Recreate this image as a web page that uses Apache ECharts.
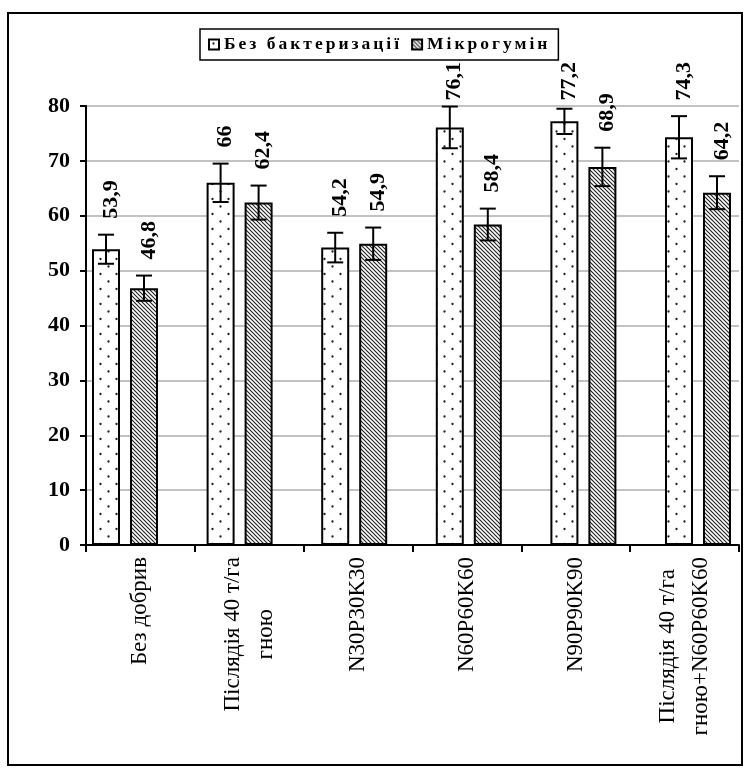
<!DOCTYPE html>
<html>
<head>
<meta charset="utf-8">
<script src="https://cdn.jsdelivr.net/npm/echarts@6/dist/echarts.min.js"></script>
<style>
  html, body { margin: 0; padding: 0; background: #fff; }
  #chart { width: 752px; height: 774px; }
</style>
</head>
<body>
<div id="chart"></div>
<script>
// ---- data ----
const categories = [
  'Без добрив',
  'Післядія 40 т/га\nгною',
  'N30P30K30',
  'N60P60K60',
  'N90P90K90',
  'Післядія 40 т/га\nгною+N60P60K60'
];
const seriesNames = ['Без бактеризації', 'Мікрогумін'];
const controlValues = [53.9, 66, 54.2, 76.1, 77.2, 74.3];
const microhuminValues = [46.8, 62.4, 54.9, 58.4, 68.9, 64.2];
const controlErrors = [2.65, 3.5, 2.7, 3.8, 2.3, 3.85];
const microhuminErrors = [2.3, 3.1, 2.95, 2.9, 3.5, 3.0];
const yMin = 0, yMax = 80, yStep = 10;

// ---- styling ----
const SERIF = 'Liberation Serif';
const LEGEND_SIZE = 17.5;       // legend captions are drawn with extra tracking
const LEGEND_TRACK = 3;
const BAR_WIDTH = 28;
const BAR_GAP = '35.7%';
const LABEL_SIZE = 22;
const LABEL_GAP = 16;           // space between error cap and value label
const LABEL_DX = 5;
const LABEL_TOP = 62;           // labels never rise above this line

// Letter tracking for the legend captions (font size 17.5px only);
// every other text is drawn with zero tracking.
(function () {
  const proto = CanvasRenderingContext2D.prototype;
  const origFill = proto.fillText;
  const origMeasure = proto.measureText;
  const tracked = (ctx) => /17\.5px/.test(ctx.font);
  const hasSpacing = 'letterSpacing' in proto;
  proto.fillText = function () {
    if (hasSpacing) this.letterSpacing = tracked(this) ? LEGEND_TRACK + 'px' : '0px';
    const r = origFill.apply(this, arguments);
    if (hasSpacing) this.letterSpacing = '0px';
    return r;
  };
  proto.measureText = function (text) {
    if (hasSpacing) this.letterSpacing = '0px';
    const m = origMeasure.call(this, text);
    if (!tracked(this)) return m;
    const extra = LEGEND_TRACK * String(text).length;
    return {
      width: m.width + extra,
      actualBoundingBoxAscent: m.actualBoundingBoxAscent,
      actualBoundingBoxDescent: m.actualBoundingBoxDescent,
      actualBoundingBoxLeft: m.actualBoundingBoxLeft,
      actualBoundingBoxRight: m.actualBoundingBoxRight + extra,
      fontBoundingBoxAscent: m.fontBoundingBoxAscent,
      fontBoundingBoxDescent: m.fontBoundingBoxDescent
    };
  };
})();

// Fill patterns: dotted (control) and back-diagonal hatch (Мікрогумін)
function dotPattern() {
  const c = document.createElement('canvas');
  c.width = 16; c.height = 15;
  const g = c.getContext('2d');
  g.fillStyle = '#fff';
  g.fillRect(0, 0, 16, 15);
  g.fillStyle = '#1e1e1e';
  [[4.5, 4], [12.5, 11.5]].forEach(([x, y]) => {
    g.beginPath();
    g.arc(x, y, 1.15, 0, Math.PI * 2);
    g.fill();
  });
  return c;
}
function hatchPattern() {
  const s = 4;
  const c = document.createElement('canvas');
  c.width = s; c.height = s;
  const g = c.getContext('2d');
  g.fillStyle = '#fff';
  g.fillRect(0, 0, s, s);
  g.strokeStyle = '#222';
  g.lineWidth = 1.15;
  g.beginPath();
  [-s, 0, s].forEach((k) => { g.moveTo(k - 1, -1); g.lineTo(k + s + 1, s + 1); });
  g.stroke();
  return c;
}
const dotFill = { image: dotPattern(), repeat: 'repeat' };
const hatchFill = { image: hatchPattern(), repeat: 'repeat' };

const measureCtx = document.createElement('canvas').getContext('2d');
function labelWidth(text) {
  measureCtx.font = 'bold ' + LABEL_SIZE + 'px "' + SERIF + '"';
  return measureCtx.measureText(text).width;
}

// Error bars with caps, plus the rotated value label above each bar
function errorSeries(values, errors, slot) {
  return {
    type: 'custom',
    xAxisIndex: 1,
    yAxisIndex: 1,
    z: 5,
    silent: true,
    clip: false,
    data: values.map((v, i) => [i, v, errors[i]]),
    encode: { x: 0, y: 1 },
    renderItem(params, api) {
      const i = api.value(0);
      const v = api.value(1);
      const e = api.value(2);
      let offset;
      if (api.barLayout) {
        const lay = api.barLayout({ count: 2, barWidth: BAR_WIDTH, barGap: BAR_GAP });
        offset = lay[slot].offsetCenter;
      } else {
        offset = (slot === 0 ? -1 : 1) * BAR_WIDTH * 1.357 / 2;
      }
      const cx = api.coord([i, v])[0] + offset;
      const yHi = api.coord([i, v + e])[1];
      const yLo = api.coord([i, v - e])[1];
      const line = { stroke: '#000', lineWidth: 2 };
      const cap = 8;
      const text = String(v).replace('.', ',');
      const w = labelWidth(text);
      let ty = yHi - LABEL_GAP;
      let align = 'left';
      if (ty - w < LABEL_TOP) { ty = LABEL_TOP; align = 'right'; }
      return {
        type: 'group',
        children: [
          { type: 'line', shape: { x1: cx, y1: yHi, x2: cx, y2: yLo }, style: line },
          { type: 'line', shape: { x1: cx - cap, y1: yHi, x2: cx + cap, y2: yHi }, style: line },
          { type: 'line', shape: { x1: cx - cap, y1: yLo, x2: cx + cap, y2: yLo }, style: line },
          {
            type: 'text',
            x: cx + LABEL_DX,
            y: ty,
            rotation: Math.PI / 2,
            style: {
              text: text,
              fontFamily: SERIF,
              fontSize: LABEL_SIZE,
              fontWeight: 'bold',
              fill: '#000',
              align: align,
              verticalAlign: 'middle'
            }
          }
        ]
      };
    }
  };
}

const axisLineStyle = { color: '#000', width: 2 };

const option = {
  backgroundColor: '#fff',
  animation: false,
  graphic: [{
    type: 'rect',
    silent: true,
    shape: { x: 8, y: 13, width: 734, height: 752 },
    style: { fill: 'none', stroke: '#000', lineWidth: 2 }
  }],
  legend: {
    data: seriesNames,
    left: 200,
    top: 29,
    selectedMode: false,
    icon: 'rect',
    itemWidth: 10,
    itemHeight: 10,
    itemGap: 9,
    padding: [5, 8, 5, 8],
    borderColor: '#000',
    borderWidth: 1.5,
    backgroundColor: '#fff',
    textStyle: { fontFamily: SERIF, fontWeight: 'bold', fontSize: LEGEND_SIZE, color: '#000' }
  },
  grid: [
    { left: 86, right: 13, top: 106, bottom: 229, outerBoundsMode: 'none', containLabel: false },
    { left: 67.7, width: 687.6, top: 106, bottom: 229, outerBoundsMode: 'none', containLabel: false }
  ],
  xAxis: [
    {
      gridIndex: 0,
      type: 'category',
      data: categories,
      boundaryGap: true,
      axisLine: { show: true, lineStyle: axisLineStyle },
      axisTick: { show: true, length: 7, alignWithLabel: false, interval: 0, lineStyle: axisLineStyle },
      splitLine: { show: false },
      axisLabel: {
        interval: 0,
        rotate: 90,
        margin: 12,
        color: '#000',
        fontFamily: SERIF,
        fontSize: 23,
        lineHeight: 33,
        formatter: (value) => value.split('\n').map((s) => '{c|' + s + '}').join('\n'),
        rich: {
          c: { align: 'center', fontFamily: SERIF, fontSize: 23, lineHeight: 33, color: '#000' }
        }
      }
    },
    { gridIndex: 1, type: 'category', data: categories, show: false }
  ],
  yAxis: [
    {
      gridIndex: 0,
      type: 'value',
      min: yMin,
      max: yMax,
      interval: yStep,
      axisLine: { show: true, lineStyle: axisLineStyle },
      axisTick: { show: true, inside: false, length: 6, lineStyle: axisLineStyle },
      axisLabel: { margin: 16, color: '#000', fontFamily: SERIF, fontWeight: 'bold', fontSize: 22 },
      splitLine: { show: true, lineStyle: { color: '#c2c2c2', width: 2 } }
    },
    { gridIndex: 1, type: 'value', min: yMin, max: yMax, show: false, splitLine: { show: false } }
  ],
  series: [
    {
      name: seriesNames[0],
      type: 'bar',
      xAxisIndex: 1,
      yAxisIndex: 1,
      data: controlValues,
      barWidth: BAR_WIDTH,
      barGap: BAR_GAP,
      itemStyle: { color: dotFill, borderColor: '#000', borderWidth: 2 },
      z: 3
    },
    {
      name: seriesNames[1],
      type: 'bar',
      xAxisIndex: 1,
      yAxisIndex: 1,
      data: microhuminValues,
      barWidth: BAR_WIDTH,
      barGap: BAR_GAP,
      itemStyle: { color: hatchFill, borderColor: '#000', borderWidth: 2 },
      z: 3
    },
    errorSeries(controlValues, controlErrors, 0),
    errorSeries(microhuminValues, microhuminErrors, 1)
  ]
};

const chart = echarts.init(document.getElementById('chart'), null, { renderer: 'canvas' });
chart.setOption(option);
</script>
</body>
</html>
